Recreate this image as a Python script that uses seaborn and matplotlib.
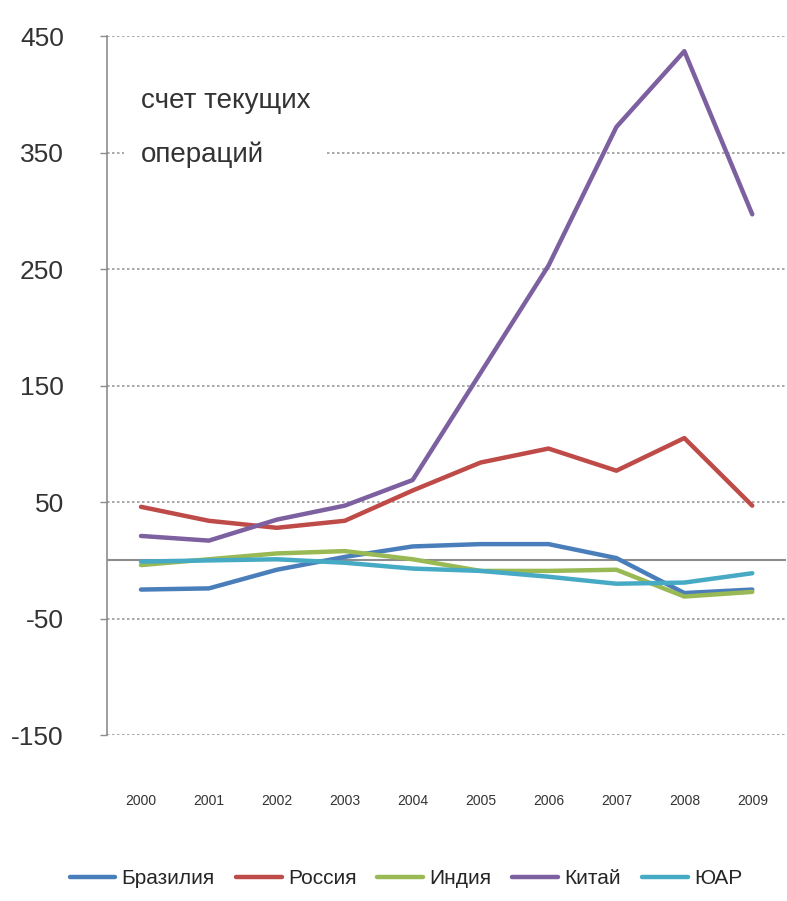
import numpy as np
import pandas as pd
import matplotlib
matplotlib.use("Agg")
import matplotlib.pyplot as plt
from matplotlib import font_manager
import seaborn as sns

years = ["2000", "2001", "2002", "2003", "2004", "2005", "2006", "2007", "2008", "2009"]
countries = ["Бразилия", "Россия", "Индия", "Китай", "ЮАР"]
brazil = [-25, -24, -8, 3, 12, 14, 14, 2, -28, -25]
russia = [46, 34, 28, 34, 60, 84, 96, 77, 105, 47]
india = [-4, 1, 6, 8, 1, -9, -9, -8, -31, -27]
china = [21, 17, 35, 47, 69, 161, 253, 372, 437, 297]
sa = [-1, 0, 1, -2, -7, -9, -14, -20, -19, -11]
colors = ["#4A7EBB", "#BE4B48", "#98B954", "#7D60A0", "#46AAC5"]
yticks = [450, 350, 250, 150, 50, -50, -150]
note = "счет текущих\nопераций"

sns.set_theme(style="white")
names = {f.name for f in font_manager.fontManager.ttflist}
fam = ["Liberation Sans Narrow", "DejaVu Sans"] if "Liberation Sans Narrow" in names else ["Liberation Sans", "DejaVu Sans"]
plt.rcParams["font.family"] = fam

series = [brazil, russia, india, china, sa]
rows = []
for c, vals in zip(countries, series):
    for i, v in enumerate(vals):
        rows.append({"x": i, "value": v, "country": c})
df = pd.DataFrame(rows)

fig = plt.figure(figsize=(7.87, 9.01), dpi=100)
ax = fig.add_axes([0.136, 0.184, 0.863, 0.776])

for y in yticks:
    ax.axhline(y, color="#9a9a9a", lw=1.2, ls=(0, (1.5, 1.5)), zorder=0)
ax.axhline(0, color="#8c8c8c", lw=1.5, zorder=1)

sns.lineplot(data=df, x="x", y="value", hue="country", hue_order=countries,
             palette=colors, lw=3.2, ax=ax, legend=True, zorder=3)

ax.set_xlim(-0.5, 9.5)
ax.set_ylim(-150, 450)
ax.set_yticks(yticks)
ax.set_yticklabels([str(t) for t in yticks], fontsize=19, color="#333333")
ax.set_xticks(range(len(years)))
ax.set_xticklabels(years, fontsize=10, color="#333333")
ax.tick_params(axis="x", length=0, pad=42)
ax.tick_params(axis="y", length=5, width=1, color="#8c8c8c", pad=26, direction="out", left=True)
ax.set_xlabel("")
ax.set_ylabel("")
for s in ["top", "right", "bottom"]:
    ax.spines[s].set_visible(False)
ax.spines["left"].set_color("#8c8c8c")
ax.spines["left"].set_linewidth(1.2)

ax.text(0.05, 0.925, note, transform=ax.transAxes, fontsize=20, color="#333333",
        va="top", ha="left", linespacing=2.3,
        bbox=dict(facecolor="white", edgecolor="none", pad=12), zorder=2)

h, l = ax.get_legend_handles_labels()
ax.legend(h, l, loc="upper center", bbox_to_anchor=(0.44, -0.165), ncol=5, frameon=False,
          fontsize=15, handlelength=2.2, handletextpad=0.3, columnspacing=1.0)

fig.savefig("out.png", dpi=100, facecolor="white")
